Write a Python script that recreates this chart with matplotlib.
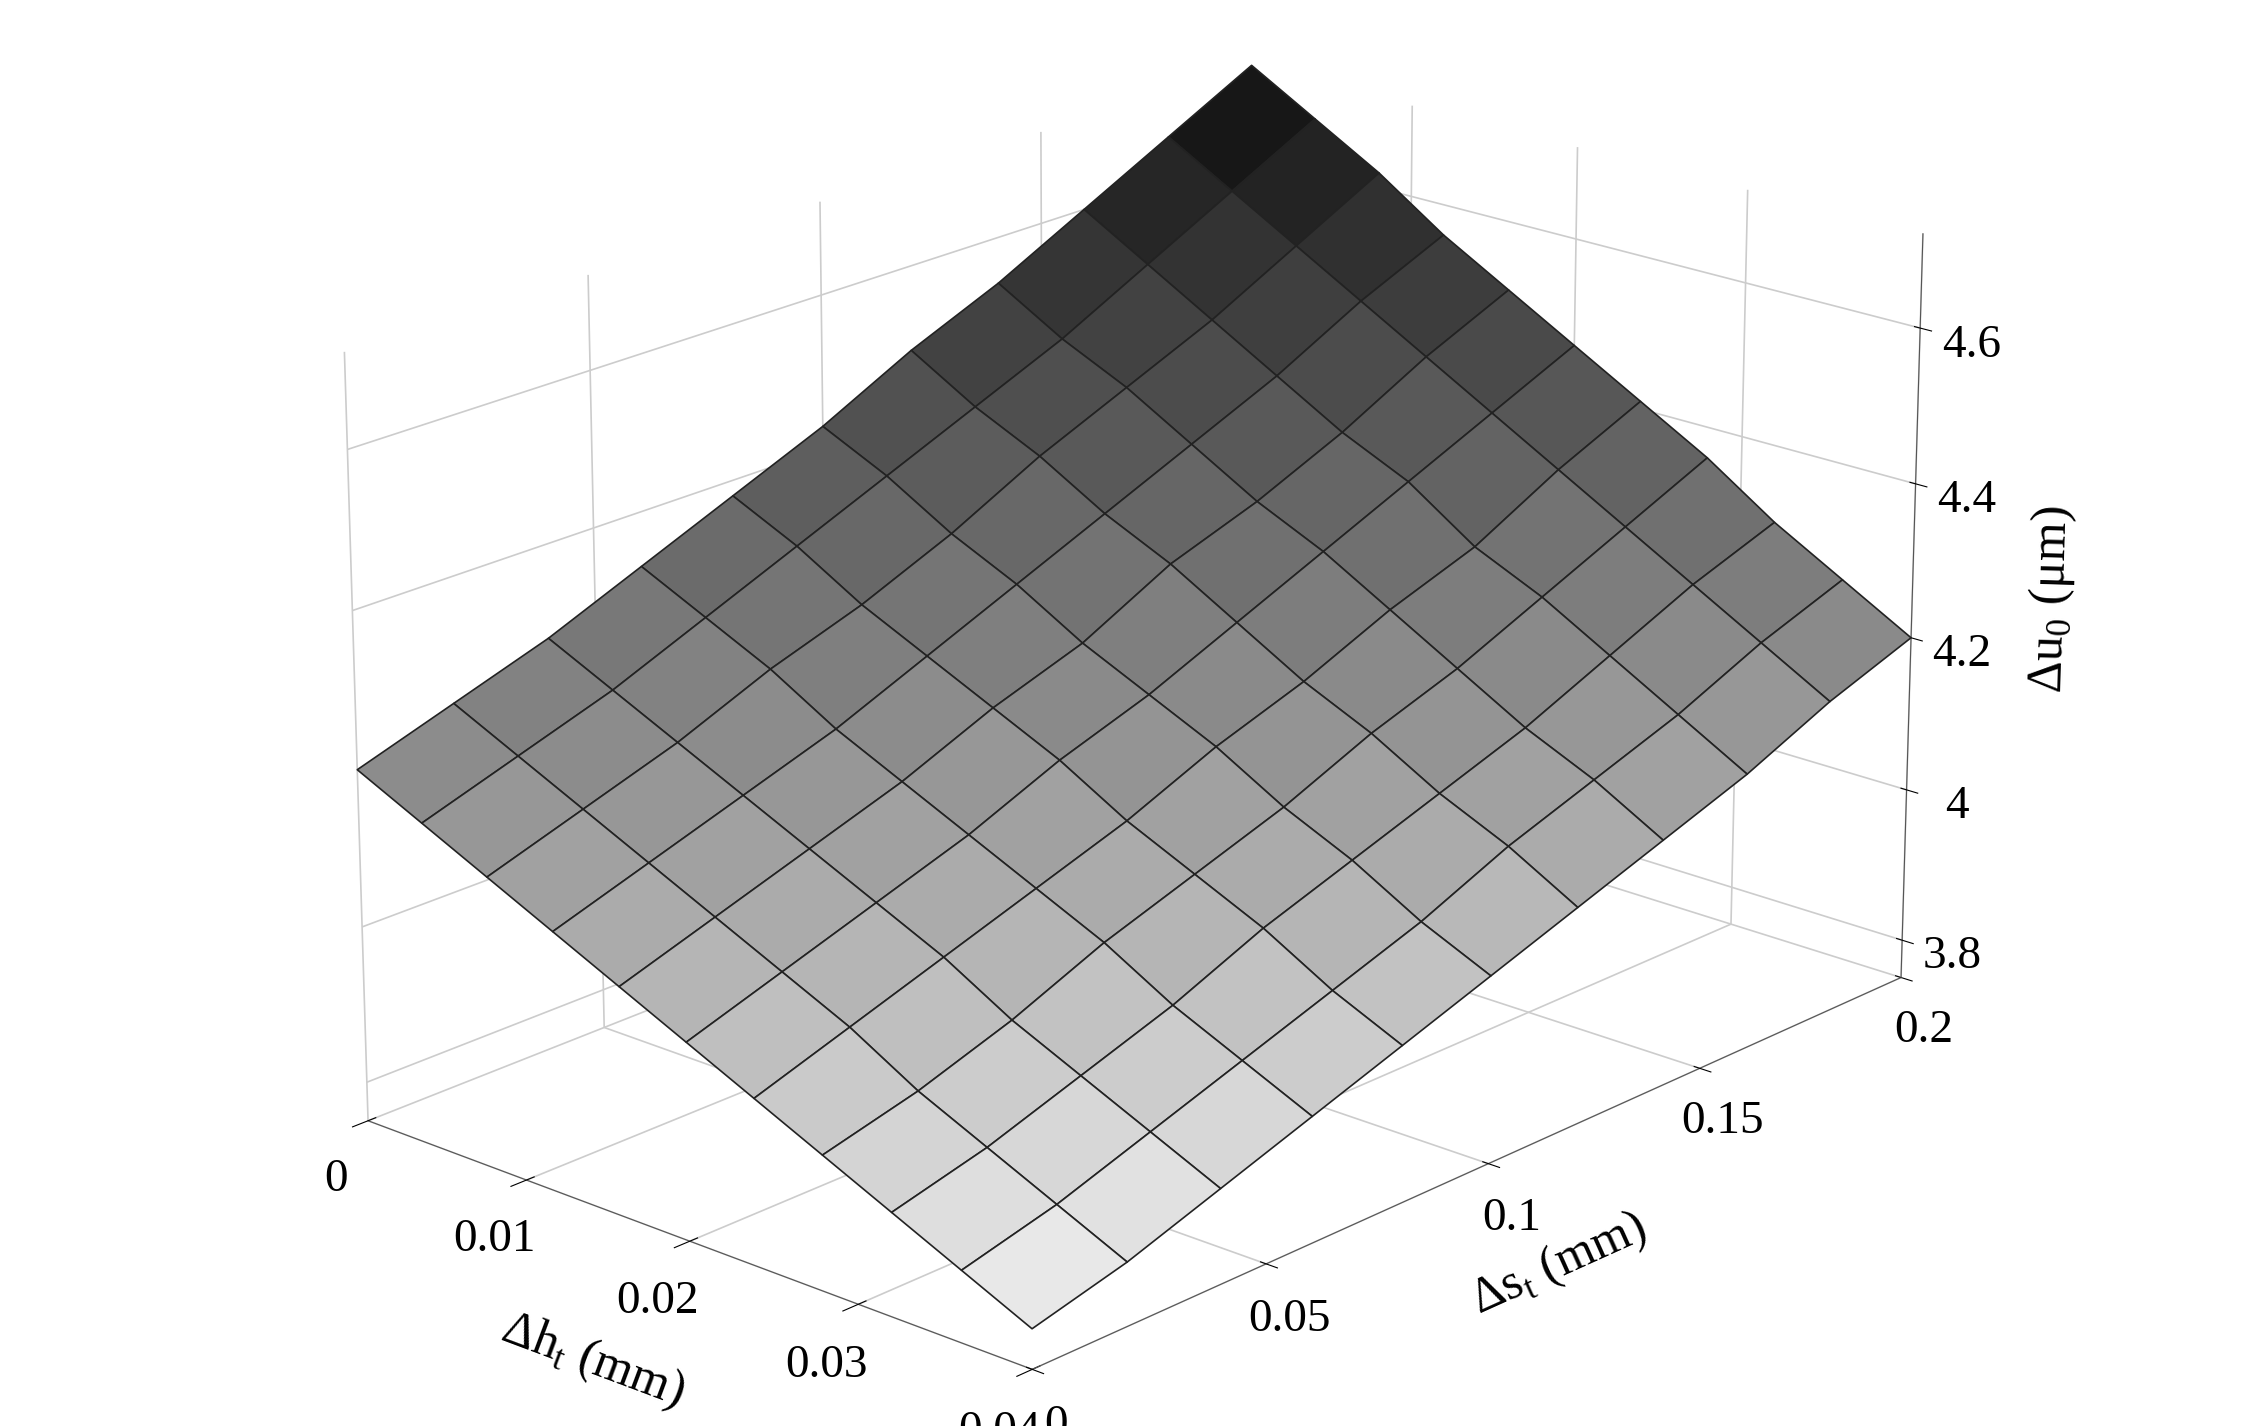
import numpy as np
import matplotlib
matplotlib.use("Agg")
import matplotlib.pyplot as plt
from matplotlib import cm

plt.rcParams['font.family'] = ['Liberation Serif', 'DejaVu Serif']
plt.rcParams['mathtext.fontset'] = 'custom'
plt.rcParams['mathtext.rm'] = 'Liberation Serif'

s_vals = [0, 0.02, 0.04, 0.06, 0.08, 0.10, 0.12, 0.14, 0.16, 0.18, 0.20]
h_vals = [0, 0.004, 0.008, 0.012, 0.016, 0.020, 0.024, 0.028, 0.032, 0.036, 0.040]
u_vals = [
    [4.20, 4.24, 4.28, 4.33, 4.38, 4.43, 4.49, 4.54, 4.60, 4.66, 4.72],
    [4.16, 4.20, 4.24, 4.29, 4.34, 4.39, 4.44, 4.49, 4.55, 4.61, 4.67],
    [4.12, 4.16, 4.20, 4.25, 4.29, 4.34, 4.40, 4.45, 4.50, 4.56, 4.62],
    [4.08, 4.12, 4.16, 4.20, 4.25, 4.30, 4.35, 4.40, 4.45, 4.51, 4.56],
    [4.04, 4.08, 4.12, 4.16, 4.21, 4.25, 4.31, 4.35, 4.40, 4.46, 4.51],
    [4.00, 4.04, 4.08, 4.12, 4.17, 4.21, 4.26, 4.31, 4.36, 4.41, 4.46],
    [3.96, 4.00, 4.04, 4.08, 4.12, 4.17, 4.21, 4.26, 4.30, 4.36, 4.41],
    [3.92, 3.95, 3.99, 4.04, 4.08, 4.12, 4.17, 4.21, 4.26, 4.31, 4.36],
    [3.88, 3.91, 3.95, 3.99, 4.04, 4.08, 4.12, 4.16, 4.21, 4.26, 4.30],
    [3.84, 3.87, 3.91, 3.95, 3.99, 4.03, 4.08, 4.12, 4.16, 4.21, 4.25],
    [3.80, 3.83, 3.87, 3.91, 3.95, 3.99, 4.03, 4.07, 4.11, 4.16, 4.20],
]

S, H = np.meshgrid(np.array(s_vals), np.array(h_vals))
U = np.array(u_vals)

fig = plt.figure(figsize=(22.51, 14.26), dpi=100)
ax = fig.add_axes([-0.06, -0.10, 1.12, 1.22], projection='3d')
norm = plt.Normalize(U.min() - 0.05, U.max())
colors = cm.gray_r(norm(U) * 0.97)
ax.plot_surface(H, S, U, facecolors=colors, edgecolor='#222222', linewidth=1.2,
                rstride=1, cstride=1, shade=False, antialiased=True)

ax.set_xlim(0, 0.04)
ax.set_ylim(0, 0.2)
ax.set_zlim(3.75, 4.72)
ax.set_yticks([0, 0.05, 0.1, 0.15, 0.2])
ax.set_yticklabels(['0', '0.05', '0.1', '0.15', '0.2'])
ax.set_xticks([0, 0.01, 0.02, 0.03, 0.04])
ax.set_xticklabels(['0', '0.01', '0.02', '0.03', '0.04'])
ax.set_zticks([3.8, 4.0, 4.2, 4.4, 4.6])
ax.set_zticklabels(['3.8', '4', '4.2', '4.4', '4.6'])
ax.tick_params(labelsize=34, pad=14)
ax.set_ylabel('Δs$_\\mathrm{t}$ (mm)', fontsize=36, labelpad=45)
ax.set_xlabel('Δh$_\\mathrm{t}$ (mm)', fontsize=36, labelpad=45)
ax.set_zlabel('Δu$_0$ (μm)', fontsize=36, labelpad=40)
for a in (ax.xaxis, ax.yaxis, ax.zaxis):
    a.set_pane_color((1, 1, 1, 1))
    a._axinfo['grid']['color'] = '#cccccc'
    a._axinfo['grid']['linewidth'] = 1.2
    a.line.set_color('#555555')
ax.view_init(elev=20, azim=-48)
ax.set_box_aspect((0.95, 1.4, 0.85))
fig.savefig('out.png', dpi=100, facecolor='white')
